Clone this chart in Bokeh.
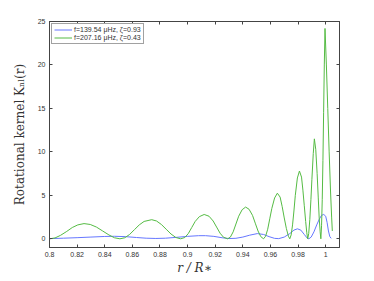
from bokeh.plotting import figure
from bokeh.models import LinearAxis, FixedTicker, Range1d, Legend, LegendItem
from bokeh.embed import file_html
from bokeh.resources import INLINE

# green: f=207.16 μHz
r_green = [0.8, 0.804, 0.808, 0.8125, 0.8165, 0.8205, 0.825, 0.8295, 0.834, 0.8385, 0.843, 0.847, 0.851,
           0.8545, 0.858, 0.8615, 0.865, 0.8685, 0.874, 0.8775, 0.881, 0.8845, 0.888, 0.8915, 0.895,
           0.898, 0.9005, 0.903, 0.9055, 0.9085, 0.912, 0.9155, 0.9185, 0.921, 0.9235, 0.926, 0.929,
           0.931, 0.933, 0.935, 0.937, 0.9395, 0.942, 0.9445, 0.947, 0.949, 0.951, 0.953, 0.955,
           0.9565, 0.958, 0.9595, 0.961, 0.963, 0.965, 0.967, 0.9685, 0.970, 0.9715, 0.973, 0.974,
           0.975, 0.976, 0.977, 0.978, 0.9795, 0.981, 0.9825, 0.9835, 0.9845, 0.9855, 0.9863, 0.987,
           0.9877, 0.9885, 0.9893, 0.990, 0.991, 0.9918, 0.9928, 0.9938, 0.9946, 0.9953, 0.996, 0.9965,
           0.997, 0.9975, 0.998, 0.9985, 0.999, 0.9995, 1.0005, 1.0015, 1.0025, 1.0035, 1.0043, 1.0048]
k_green = [0.0, 0.1, 0.4, 0.85, 1.3, 1.6, 1.75, 1.65, 1.35, 0.9, 0.45, 0.12, 0.0,
           0.12, 0.5, 1.05, 1.6, 2.0, 2.2, 2.05, 1.65, 1.1, 0.55, 0.15, 0.0,
           0.15, 0.6, 1.3, 2.0, 2.55, 2.8, 2.6, 2.05, 1.35, 0.65, 0.18, 0.0,
           0.2, 0.8, 1.7, 2.6, 3.35, 3.65, 3.4, 2.7, 1.8, 0.9, 0.25, 0.0,
           0.3, 1.1, 2.3, 3.5, 4.7, 5.25, 4.8, 3.7, 2.4, 1.2, 0.3, 0.0,
           0.45, 1.6, 3.2, 5.0, 7.0, 7.8, 7.1, 5.6, 3.8, 2.0, 0.7, 0.0,
           0.6, 2.2, 4.5, 6.8, 9.8, 11.5, 10.3, 7.5, 4.8, 2.4, 0.8, 0.0,
           1.5, 4.5, 9.0, 14.5, 20.0, 24.2, 20.0, 15.0, 10.0, 5.5, 2.5, 0.9]

# blue: f=139.54 μHz
r_blue = [0.8, 0.81, 0.82, 0.83, 0.84, 0.847, 0.855, 0.863, 0.87, 0.877, 0.884, 0.892, 0.9, 0.908,
          0.913, 0.919, 0.925, 0.93, 0.935, 0.94, 0.945, 0.9505, 0.955, 0.959, 0.963, 0.966, 0.97,
          0.974, 0.977, 0.9795, 0.982, 0.9845, 0.9865, 0.9878, 0.9895, 0.9915, 0.9935, 0.9955,
          0.997, 0.9986, 1.0, 1.001, 1.002, 1.003, 1.004]
k_blue = [0.02, 0.07, 0.13, 0.2, 0.27, 0.29, 0.25, 0.15, 0.07, 0.04, 0.07, 0.17, 0.28, 0.36,
          0.36, 0.28, 0.12, 0.03, 0.06, 0.2, 0.42, 0.6, 0.5, 0.25, 0.05, 0.02, 0.2,
          0.6, 1.0, 1.15, 1.0, 0.5, 0.1, 0.0, 0.2, 0.8, 1.6, 2.3,
          2.7, 2.8, 2.6, 1.9, 0.9, 0.25, 0.05]

x_ticks = [0.8, 0.82, 0.84, 0.86, 0.88, 0.9, 0.92, 0.94, 0.96, 0.98, 1.0]
x_tick_labels = ["0.8", "0.82", "0.84", "0.86", "0.88", "0.9", "0.92", "0.94", "0.96", "0.98", "1"]
y_ticks = [0, 5, 10, 15, 20, 25]

label_blue = "f=139.54 \u03bcHz, \u03b6=0.93"
label_green = "f=207.16 \u03bcHz, \u03b6=0.43"

AX = "#444444"

p = figure(width=358, height=277, output_backend="svg", toolbar_location=None,
           x_range=Range1d(0.8, 1.01), y_range=Range1d(-1, 25),
           min_border_left=49, min_border_top=21, min_border_right=19, min_border_bottom=28)
p.grid.visible = False
p.outline_line_color = AX
p.outline_line_width = 1

lb = p.line(r_blue, k_blue, line_color="#6677ff", line_width=1)
lg = p.line(r_green, k_green, line_color="#55bb44", line_width=1)

tick_font = "Liberation Sans"
for ax in [p.xaxis[0], p.yaxis[0]]:
    ax.major_tick_in = 3
    ax.major_tick_out = 0
    ax.minor_tick_in = 0
    ax.minor_tick_out = 0
    ax.axis_line_color = AX
    ax.major_tick_line_color = AX
    ax.major_label_text_font = tick_font
    ax.major_label_text_font_size = "7px"
    ax.major_label_text_color = "#333333"
    ax.axis_label_text_font = "DejaVu Serif"
    ax.axis_label_text_font_style = "normal"
    ax.axis_label_text_font_size = "11px"
    ax.axis_label_text_color = "#333333"

p.xaxis[0].ticker = FixedTicker(ticks=x_ticks)
p.xaxis[0].major_label_overrides = {t: l for t, l in zip(x_ticks, x_tick_labels)}
p.xaxis[0].major_label_standoff = 4
p.xaxis[0].axis_label = "r / R\u2217"
p.xaxis[0].axis_label_text_font_style = "italic"
p.xaxis[0].axis_label_text_font_size = "12px"
p.xaxis[0].axis_label_standoff = 1
p.yaxis[0].ticker = FixedTicker(ticks=y_ticks)
p.yaxis[0].major_label_standoff = 4
p.yaxis[0].axis_label = "Rotational kernel K\u2099\u2097(r)"
p.yaxis[0].axis_label_standoff = 8
p.yaxis[0].axis_label_text_font_size = "12px"

top = LinearAxis(ticker=FixedTicker(ticks=x_ticks), major_tick_in=3, major_tick_out=0,
                 minor_tick_in=0, minor_tick_out=0,
                 major_label_overrides={t: "" for t in x_ticks},
                 axis_line_color=AX, major_tick_line_color=AX, major_label_standoff=0)
right = LinearAxis(ticker=FixedTicker(ticks=y_ticks), major_tick_in=3, major_tick_out=0,
                   minor_tick_in=0, minor_tick_out=0,
                   major_label_overrides={t: "" for t in y_ticks},
                   axis_line_color=AX, major_tick_line_color=AX, major_label_standoff=0)
p.add_layout(top, "above")
p.add_layout(right, "right")

legend = Legend(items=[LegendItem(label=label_blue, renderers=[lb]),
                       LegendItem(label=label_green, renderers=[lg])],
                location="top_left")
legend.label_text_font = tick_font
legend.label_text_font_size = "7px"
legend.label_text_color = "#333333"
legend.label_height = 7
legend.glyph_height = 7
legend.glyph_width = 18
legend.spacing = 1
legend.padding = 2
legend.margin = 2
legend.label_standoff = 2
legend.border_line_color = AX
legend.border_line_width = 1
legend.background_fill_alpha = 1
p.add_layout(legend)

open("out.html", "w").write(file_html(p, INLINE))
